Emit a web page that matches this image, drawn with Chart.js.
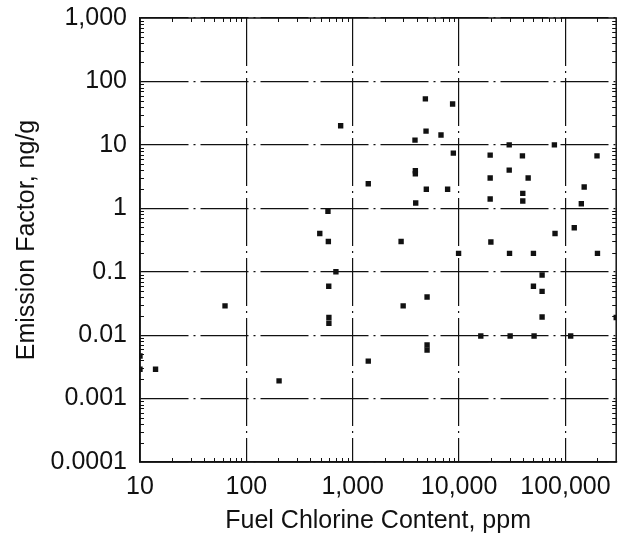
<!DOCTYPE html>
<html>
<head>
<meta charset="utf-8">
<script src="https://cdn.jsdelivr.net/npm/chart.js@4.4.1/dist/chart.umd.min.js"></script>
<style>
  html, body { margin: 0; padding: 0; background: #fff; }
  #wrap { width: 620px; height: 544px; position: relative; }
</style>
</head>
<body>
<div id="wrap"><canvas id="chart"></canvas></div>
<script>
/* Emission factor vs. fuel chlorine content (log-log scatter) */

// fuel chlorine content, ppm
var CHLORINE = [
  10, 10, 14, 63, 203, 490, 585, 590, 695, 595,
  597, 597, 770, 1400, 1400, 2850, 2980, 3850, 3880, 3880,
  3910, 4820, 4890, 4920, 5000, 5000, 5000, 6760, 7800, 8690,
  8830, 9890, 16000, 19600, 19600, 19600, 19900, 29600, 29600, 29800,
  30200, 39400, 39700, 39700, 44600, 50000, 50000, 50700, 60300, 60300,
  60300, 78700, 79800, 112000, 121000, 141000, 150000, 198000, 200000, 300000
];
// emission factor, ng/g
var EMISSION = [
  0.0047, 0.0029, 0.0029, 0.029, 0.0019, 0.40, 0.90, 0.30, 0.10, 0.059,
  0.019, 0.0154, 20, 2.44, 0.0039, 0.30, 0.029, 11.9, 3.5, 3.9,
  1.21, 53, 16.5, 2.0, 0.040, 0.007, 0.0058, 14.3, 2.0, 44,
  7.4, 0.195, 0.0097, 6.9, 3.0, 1.4, 0.294, 10, 4.0, 0.195,
  0.0097, 6.7, 1.72, 1.3, 3.0, 0.195, 0.059, 0.0097, 0.0887, 0.049,
  0.0193, 10, 0.40, 0.0097, 0.494, 1.18, 2.17, 6.7, 0.195, 0.019
];

var X_TICKS = [10, 100, 1000, 10000, 100000];
var X_TICK_LABELS = ["10", "100", "1,000", "10,000", "100,000"];
var Y_TICKS = [0.0001, 0.001, 0.01, 0.1, 1, 10, 100, 1000];
var Y_TICK_LABELS = ["0.0001", "0.001", "0.01", "0.1", "1", "10", "100", "1,000"];

var X_TITLE = "Fuel Chlorine Content, ppm";
var Y_TITLE = "Emission Factor, ng/g";

var INK = "#111";
var FONT = "'Liberation Sans', Arial, Helvetica, sans-serif";

var points = CHLORINE.map(function (x, i) { return { x: x, y: EMISSION[i] }; });

/* frame on all four sides plus small inward minor ticks */
var framePlugin = {
  id: "frame",
  afterDraw: function (chart) {
    var a = chart.chartArea, ctx = chart.ctx;
    var xs = chart.scales.x, ys = chart.scales.y;
    ctx.save();
    ctx.strokeStyle = INK;
    ctx.lineWidth = 1.5;
    ctx.strokeRect(a.left, a.top, a.right - a.left, a.bottom - a.top);
    ctx.lineWidth = 1;
    ctx.beginPath();
    var d, m, v, p;
    for (d = 10; d < xs.max; d *= 10) {
      for (m = 2; m < 10; m++) {
        v = d * m;
        if (v >= xs.max) break;
        p = Math.round(xs.getPixelForValue(v)) + 0.5;
        ctx.moveTo(p, a.bottom); ctx.lineTo(p, a.bottom - 4);
        ctx.moveTo(p, a.top); ctx.lineTo(p, a.top + 4);
      }
    }
    for (d = 0.0001; d < ys.max; d *= 10) {
      for (m = 2; m < 10; m++) {
        v = d * m;
        p = Math.round(ys.getPixelForValue(v)) + 0.5;
        ctx.moveTo(a.left, p); ctx.lineTo(a.left + 4, p);
        ctx.moveTo(a.right, p); ctx.lineTo(a.right - 4, p);
      }
    }
    ctx.stroke();
    ctx.restore();
  }
};

function fixTicks(values) {
  return function (scale) {
    scale.ticks = values.map(function (v) { return { value: v }; });
  };
}

new Chart(document.getElementById("chart"), {
  type: "scatter",
  data: {
    datasets: [{
      data: points,
      pointStyle: "rect",
      pointRadius: 3.8,
      pointHoverRadius: 3.8,
      backgroundColor: INK,
      borderColor: INK,
      borderWidth: 0
    }]
  },
  options: {
    responsive: true,
    maintainAspectRatio: false,
    animation: false,
    layout: { padding: { left: 0, top: 18, right: 2, bottom: 0 } },
    plugins: { legend: { display: false }, tooltip: { enabled: false } },
    scales: {
      x: {
        type: "logarithmic",
        min: 10,
        max: 300000,
        afterBuildTicks: fixTicks(X_TICKS),
        afterFit: function (scale) {
          scale.height = 82;
          scale.paddingLeft = 0;
          scale.paddingRight = 0;
        },
        grid: { color: INK, lineWidth: 1.2, drawTicks: false },
        border: { display: true, color: INK, width: 1.5, dash: [48, 5, 2, 5] },
        ticks: {
          color: INK,
          padding: 10,
          maxRotation: 0,
          autoSkip: false,
          font: { family: FONT, size: 25 },
          callback: function (v) { return X_TICK_LABELS[X_TICKS.indexOf(v)]; }
        },
        title: {
          display: true,
          text: X_TITLE,
          color: INK,
          padding: { top: 0, bottom: 8 },
          font: { family: FONT, size: 25 }
        }
      },
      y: {
        type: "logarithmic",
        min: 0.0001,
        max: 1000,
        afterBuildTicks: fixTicks(Y_TICKS),
        afterFit: function (scale) {
          scale.width = 140;
          scale.paddingTop = 0;
          scale.paddingBottom = 0;
        },
        grid: { color: INK, lineWidth: 1.2, drawTicks: false },
        border: { display: true, color: INK, width: 1.5, dash: [48, 5, 2, 5] },
        ticks: {
          color: INK,
          padding: 13,
          autoSkip: false,
          font: { family: FONT, size: 25 },
          callback: function (v) { return Y_TICK_LABELS[Y_TICKS.indexOf(v)]; }
        },
        title: {
          display: true,
          text: Y_TITLE,
          color: INK,
          padding: { top: 12, bottom: 0 },
          font: { family: FONT, size: 25 }
        }
      }
    }
  },
  plugins: [framePlugin]
});
</script>
</body>
</html>
